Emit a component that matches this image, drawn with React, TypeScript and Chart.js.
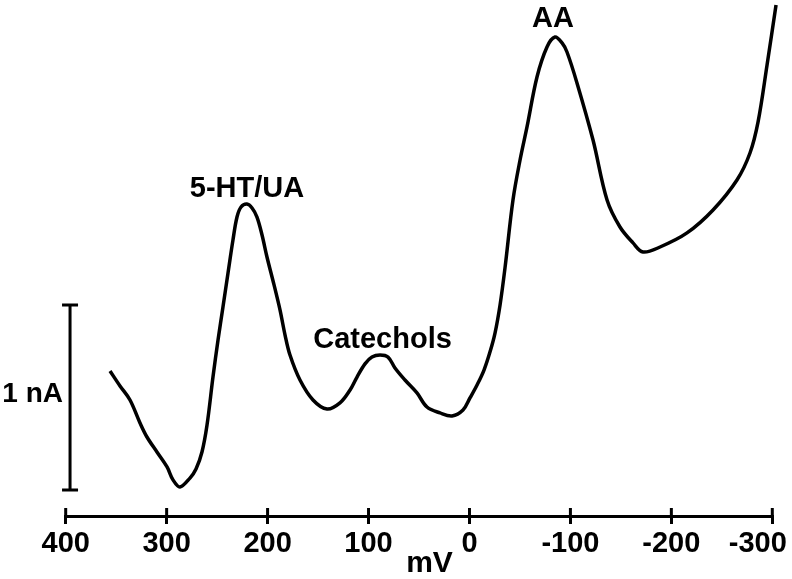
import React, { useEffect, useRef } from "react";
import { Chart, registerables } from "chart.js";

Chart.register(...registerables);

// Potential (mV) and current (nA) of the voltammogram trace
const potentialsMv = [
  356.1, 346.2, 336.3, 326.4, 319.5, 309.6, 299.6, 293.7, 286.8, 276.9,
  270.9, 265.0, 260.0, 254.1, 249.1, 244.2, 239.2, 234.3, 230.3, 226.3,
  220.4, 215.4, 210.5, 205.5, 200.6, 193.6, 187.7, 182.7, 177.8, 167.9,
  155.0, 141.1, 128.3, 118.3, 111.4, 103.5, 96.6, 88.6, 80.7, 73.8,
  63.9, 52.0, 42.1, 29.2, 17.3, 6.4, -0.5, -7.5, -14.4, -20.3,
  -25.3, -30.3, -35.2, -43.1, -50.1, -57.0, -66.9, -76.8, -84.7, -91.7,
  -96.6, -106.5, -122.4, -136.3, -149.1, -162.0, -171.9, -188.8, -215.5, -241.3,
  -265.0, -277.9, -285.9, -294.8, -303.7,
];
const currentNa = [
  0.784, 0.703, 0.627, 0.503, 0.427, 0.346, 0.265, 0.195, 0.157, 0.205,
  0.254, 0.346, 0.492, 0.751, 0.951, 1.13, 1.314, 1.492, 1.616, 1.67,
  1.686, 1.665, 1.616, 1.519, 1.4, 1.249, 1.114, 0.978, 0.87, 0.735,
  0.627, 0.578, 0.611, 0.681, 0.751, 0.822, 0.859, 0.87, 0.859, 0.8,
  0.735, 0.665, 0.589, 0.557, 0.541, 0.573, 0.638, 0.708, 0.789, 0.886,
  0.989, 1.141, 1.341, 1.708, 1.924, 2.103, 2.373, 2.535, 2.589, 2.557,
  2.508, 2.341, 2.032, 1.708, 1.562, 1.476, 1.427, 1.454, 1.53, 1.654,
  1.816, 1.962, 2.13, 2.438, 2.762,
];

// Axis ticks
const tickValuesMv = [400, 300, 200, 100, 0, -100, -200, -300];
const xMinMv = -300;
const xMaxMv = 400;
const yMinNa = 0;
const yMaxNa = 2.789;

// Peak annotations
const peakLabels = ["5-HT/UA", "Catechols", "AA"];
const peakLabelMv = [220.4, 86.1, -82.8];
const peakLabelNa = [1.724, 0.908, 2.643];

// Scale bar (1 nA)
const scaleBarLabel = "1 nA";
const scaleBarMv = 395.7;
const scaleBarNa = [0.1405, 1.1405];

const FONT = "'Liberation Sans', Arial, Helvetica, sans-serif";

const overlayPlugin = {
  id: "overlay",
  afterDraw(chart: any) {
    const ctx = chart.ctx;
    const xs = chart.scales.x;
    const ys = chart.scales.y;
    const axisY = chart.chartArea.bottom;
    ctx.save();
    ctx.strokeStyle = "#000";
    ctx.fillStyle = "#000";
    ctx.lineWidth = 3;
    ctx.lineCap = "butt";
    // upper half of the crossing tick marks
    tickValuesMv.forEach((v) => {
      const px = xs.getPixelForValue(v);
      ctx.beginPath();
      ctx.moveTo(px, axisY - 8);
      ctx.lineTo(px, axisY);
      ctx.stroke();
    });
    // scale bar
    const bx = xs.getPixelForValue(scaleBarMv);
    const by0 = ys.getPixelForValue(scaleBarNa[0]);
    const by1 = ys.getPixelForValue(scaleBarNa[1]);
    ctx.beginPath();
    ctx.moveTo(bx, by0);
    ctx.lineTo(bx, by1);
    ctx.moveTo(bx - 8, by0);
    ctx.lineTo(bx + 8, by0);
    ctx.moveTo(bx - 8, by1);
    ctx.lineTo(bx + 8, by1);
    ctx.stroke();
    ctx.font = `bold 28px ${FONT}`;
    ctx.textAlign = "right";
    ctx.textBaseline = "alphabetic";
    ctx.fillText(scaleBarLabel, bx - 7, (by0 + by1) / 2 + 5);
    // peak labels
    ctx.font = `bold 29px ${FONT}`;
    ctx.textAlign = "center";
    peakLabels.forEach((t, i) => {
      ctx.fillText(t, xs.getPixelForValue(peakLabelMv[i]), ys.getPixelForValue(peakLabelNa[i]));
    });
    ctx.restore();
  },
};

export default function App() {
  const ref = useRef<HTMLCanvasElement | null>(null);
  useEffect(() => {
    if (!ref.current) return;
    const chart = new Chart(ref.current, {
      type: "line",
      data: {
        datasets: [
          {
            data: potentialsMv.map((x, i) => ({ x, y: currentNa[i] })),
            borderColor: "#000",
            borderWidth: 3.5,
            pointRadius: 0,
            tension: 0.35,
            fill: false,
            clip: false as any,
          },
        ],
      },
      options: {
        animation: false,
        responsive: true,
        maintainAspectRatio: false,
        layout: { padding: { left: 65.7, right: 19.7, top: 0, bottom: 0 } },
        plugins: { legend: { display: false }, tooltip: { enabled: false } },
        scales: {
          x: {
            type: "linear",
            reverse: true,
            min: xMinMv,
            max: xMaxMv,
            afterBuildTicks: (scale: any) => {
              scale.ticks = tickValuesMv.map((v) => ({ value: v }));
            },
            afterFit: (scale: any) => {
              scale.height = 63;
              scale.paddingLeft = 0;
              scale.paddingRight = 0;
            },
            border: { display: true, color: "#000", width: 3 },
            grid: {
              drawOnChartArea: false,
              drawTicks: true,
              tickLength: 8,
              tickWidth: 3,
              tickColor: "#000",
              color: "#000",
              lineWidth: 3,
            },
            ticks: {
              autoSkip: false,
              maxRotation: 0,
              padding: 3,
              color: "#000",
              font: { family: FONT, size: 29, weight: "bold" },
              callback: (v: any) => (v === -300 ? "-300\u2003" : String(v)),
            },
            title: {
              display: true,
              text: "\u2002\u2009mV",
              color: "#000",
              font: { family: FONT, size: 30, weight: "bold" },
              padding: { top: 0, bottom: -3 },
            },
          },
          y: {
            display: false,
            min: yMinNa,
            max: yMaxNa,
          },
        },
      },
      plugins: [overlayPlugin],
    } as any);
    return () => chart.destroy();
  }, []);
  return (
    <div style={{ position: "fixed", left: 0, top: 0, width: 792, height: 579, background: "#fff" }}>
      <canvas ref={ref} />
    </div>
  );
}
